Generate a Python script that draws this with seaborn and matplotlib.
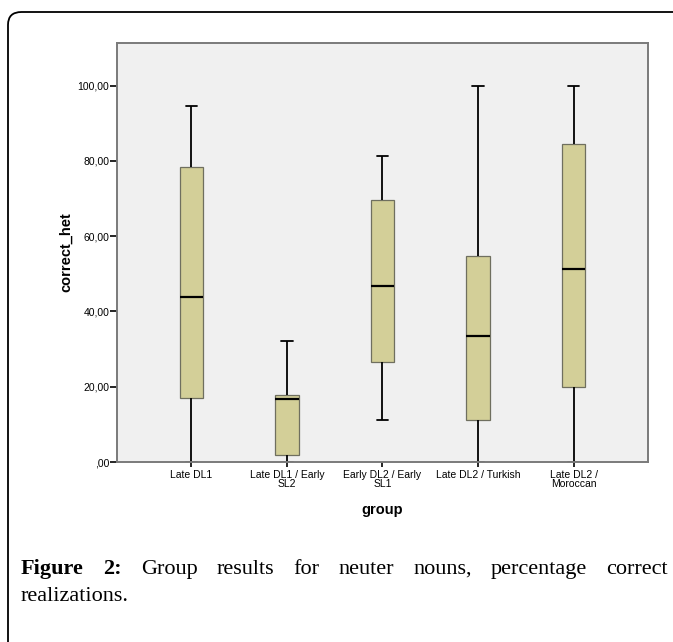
import numpy as np
import pandas as pd
import matplotlib
matplotlib.use("Agg")
import matplotlib.pyplot as plt
from matplotlib.patches import FancyBboxPatch
import seaborn as sns

# five-number summaries (min, Q1, median, Q3, max)
groups = ["Late DL1", "Late DL1 / Early SL2", "Early DL2 / Early SL1",
          "Late DL2 / Turkish", "Late DL2 / Moroccan"]
group_labels = ["Late DL1", "Late DL1 / Early\nSL2", "Early DL2 / Early\nSL1",
                "Late DL2 / Turkish", "Late DL2 /\nMoroccan"]
mins = [0.0, 0.0, 11.2, 0.0, 0.0]
q1s = [17.1, 1.9, 26.5, 11.1, 19.9]
medians = [43.8, 16.7, 46.7, 33.4, 51.3]
q3s = [78.3, 17.8, 69.6, 54.7, 84.5]
maxs = [94.6, 32.1, 81.2, 100.0, 100.0]
yticks = [0, 20, 40, 60, 80, 100]
ytick_labels = [",00", "20,00", "40,00", "60,00", "80,00", "100,00"]

rows = []
for g, a, b, c, d, e in zip(groups, mins, q1s, medians, q3s, maxs):
    for v in (a, b, c, d, e):
        rows.append({"group": g, "correct_het": v})
df = pd.DataFrame(rows)

sns.set_style("white")
plt.rcParams["font.family"] = ["Liberation Sans", "DejaVu Sans"]
plt.rcParams["text.color"] = "black"
plt.rcParams["axes.labelcolor"] = "black"
plt.rcParams["xtick.color"] = "black"
plt.rcParams["ytick.color"] = "black"

fig = plt.figure(figsize=(6.73, 6.42), dpi=100)
ax = fig.add_axes([117 / 673, 1 - 462 / 642, 531 / 673, 419 / 642])
ax.set_facecolor("#f0f0f0")

sns.boxplot(data=df, x="group", y="correct_het", order=groups, ax=ax,
            width=0.25, whis=1.5, saturation=1, color="#d3cf98",
            linecolor="#6f6f5f", linewidth=0.9, showfliers=False,
            medianprops=dict(color="black", linewidth=1.6),
            whiskerprops=dict(color="black", linewidth=1.3),
            capprops=dict(color="black", linewidth=1.3))

ax.set_xlim(-0.78, 4.78)
ax.set_ylim(0, 111.3)
ax.set_yticks(yticks)
ax.set_yticklabels(ytick_labels, fontsize=7.5)
ax.set_xticks(range(len(groups)))
ax.set_xticklabels(group_labels, fontsize=7.5, linespacing=0.95)
ax.tick_params(axis="y", length=5, width=1.2, color="black", pad=0.5, left=True)
ax.tick_params(axis="x", length=3.5, width=1.2, color="black", pad=2, bottom=True)
ax.set_xlabel("group", fontsize=10.5, fontweight="bold", labelpad=10)
ax.set_ylabel("correct_het", fontsize=10.5, fontweight="bold", labelpad=3.5)
for s in ax.spines.values():
    s.set_visible(True)
    s.set_color("#7a7a7a")
    s.set_linewidth(1.4)

# rounded frame around figure + caption
frame = FancyBboxPatch((8 / 673, -0.1), 1.2, 1.1 - 12 / 642,
                       boxstyle="round,pad=0,rounding_size=0.02",
                       transform=fig.transFigure, fill=False,
                       edgecolor="black", linewidth=1.3, clip_on=False)
fig.patches.append(frame)

words = [("Figure", "bold"), ("2:", "bold"), ("Group", "normal"),
         ("results", "normal"), ("for", "normal"), ("neuter", "normal"),
         ("nouns,", "normal"), ("percentage", "normal"), ("correct", "normal")]
serif = ["Liberation Serif", "DejaVu Serif"]
x0, x1 = 21, 668
y1 = 1 - 574 / 642
y2 = 1 - 601 / 642
renderer = fig.canvas.get_renderer()
texts = []
for w, wt in words:
    t = fig.text(0, y1, w, fontsize=16, fontweight=wt, family=serif,
                 va="baseline", ha="left", color="black")
    texts.append(t)
widths = [t.get_window_extent(renderer).width for t in texts]
gap = (x1 - x0 - sum(widths)) / (len(words) - 1)
x = x0
for t, w in zip(texts, widths):
    t.set_x(x / 673)
    x += w + gap
fig.text(x0 / 673, y2, "realizations.", fontsize=16, family=serif,
         va="baseline", ha="left", color="black")

fig.savefig("out.png", dpi=100)
